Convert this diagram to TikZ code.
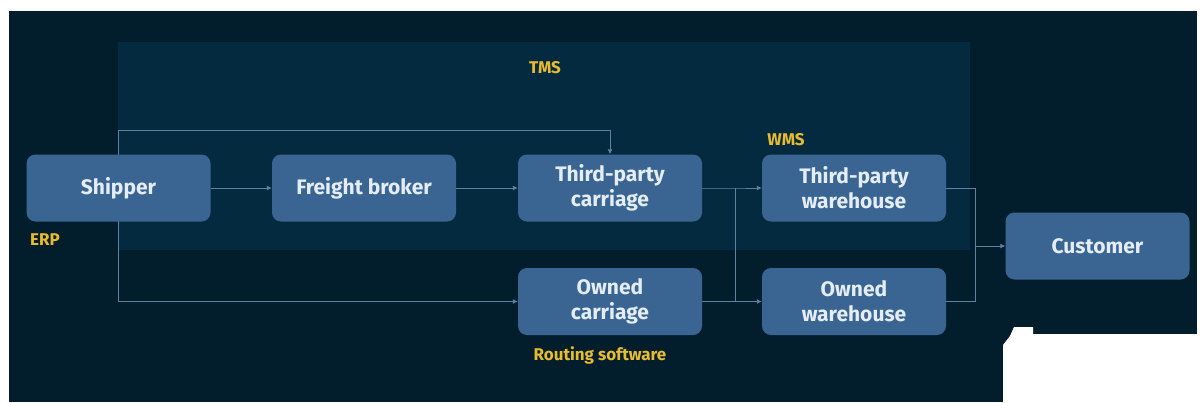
\documentclass[tikz,border=0pt]{standalone}
\usepackage{fontspec}
\setmainfont{Fira Sans}
\usetikzlibrary{arrows.meta}
\definecolor{bgdark}{HTML}{021E2D}
\definecolor{tmsbg}{HTML}{042A40}
\definecolor{boxfill}{HTML}{3A6592}
\definecolor{boxtext}{HTML}{E4EDF5}
\definecolor{labelyellow}{HTML}{E9BC2E}
\definecolor{linecol}{HTML}{5E83A2}
\pgfdeclarelayer{back}
\pgfdeclarelayer{mid}
\pgfsetlayers{back,mid,main}
\begin{document}
\begin{tikzpicture}[x=1pt,y=-1pt,
  flowbox/.style={fill=boxfill, rounded corners=9pt, minimum width=184pt, minimum height=67pt,
    text=boxtext, font=\fontsize{21}{25}\selectfont\bfseries, align=center, inner sep=0pt},
  tag/.style={text=labelyellow, font=\fontsize{17}{19}\selectfont\bfseries, inner sep=0pt},
  conn/.style={draw=linecol, line width=0.9pt},
  arr/.style={conn, -{Latex[length=5pt,width=5pt]}}]
\useasboundingbox (0,0) rectangle (1203,402);
\begin{pgfonlayer}{back}
\fill[white] (0,0) rectangle (1203,402);
\fill[bgdark] (9,11) rectangle (1197,402);
\fill[tmsbg] (118,42) rectangle (970,250);
\fill[white] (1003,402) -- (1003,345) -- (1010,336) -- (1014,327) -- (1033,327) -- (1033,334) -- (1203,334) -- (1203,402) -- cycle;
\end{pgfonlayer}

\node[flowbox] (shipper) at (118.5,188) {Shipper};
\node[flowbox] (broker) at (364,188) {Freight broker};
\node[flowbox] (tpc) at (610,188) {Third-party\\carriage};
\node[flowbox] (oc) at (610,301.5) {Owned\\carriage};
\node[flowbox] (tpw) at (854,188) {Third-party\\warehouse};
\node[flowbox] (ow) at (854,301.5) {Owned\\warehouse};
\node[flowbox] (cust) at (1097.5,246) {Customer};

\node[tag] (tms) at (545,68) {TMS};
\node[tag] (erp) at (45,240) {ERP};
\node[tag] (wms) at (786,140) {WMS};
\node[tag] (route) at (600,355) {Routing software};

\coordinate (top) at (118.5,130);
\coordinate (bot) at (118.5,301.5);
\coordinate (j1) at (735,188);
\coordinate (j2) at (735,301.5);
\coordinate (j3) at (975,188);
\coordinate (j4) at (975,301.5);
\coordinate (j5) at (975,246);

\begin{pgfonlayer}{mid}
\draw[arr] (shipper) -- (broker);
\draw[arr] (broker) -- (tpc);
\draw[arr] (top) -| (tpc.north);
\draw[conn] (top) -- (bot);
\draw[arr] (bot) -- (oc.west);
\draw[arr] (tpc.east) -- (j1) -- (tpw.west);
\draw[arr] (oc.east) -- (j2) -- (ow.west);
\draw[conn] (j1) -- (j2);
\draw[conn] (tpw.east) -- (j3) -- (j4) -- (ow.east);
\draw[arr] (j5) -- (cust.west);
\end{pgfonlayer}
\end{tikzpicture}
\end{document}
